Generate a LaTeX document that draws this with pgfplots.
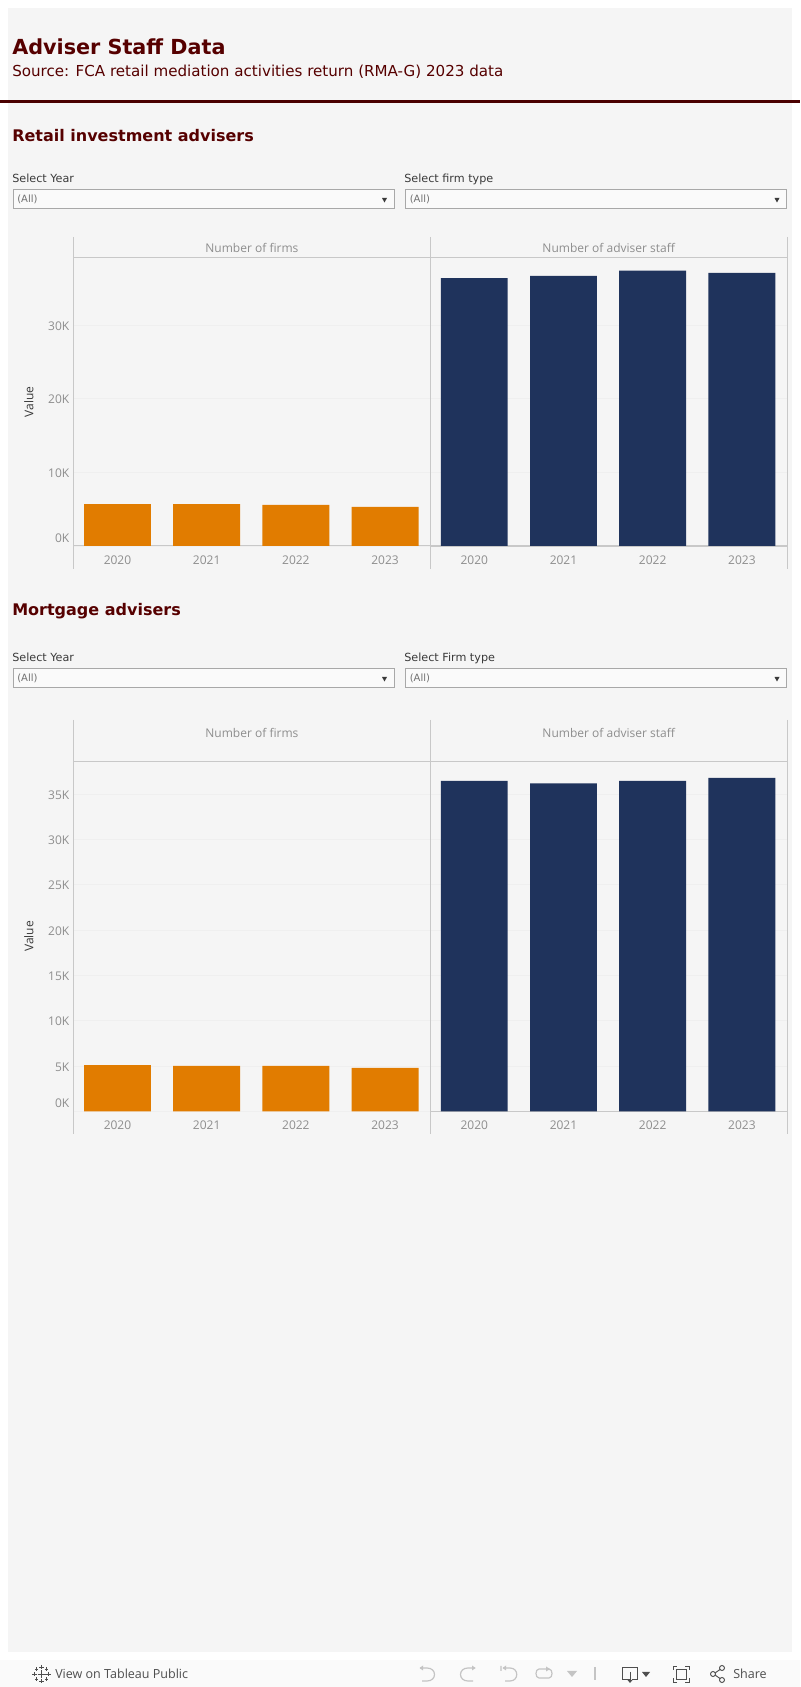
\documentclass[border=0pt]{standalone}
\usepackage{fontspec}
\setmainfont{Open Sans}
\newfontfamily\djv{DejaVu Sans}
\usepackage{pgfplots}
\pgfplotsset{compat=1.18}
\definecolor{panel}{HTML}{F5F5F5}
\definecolor{bar}{HTML}{FAFAFA}
\definecolor{maroon}{HTML}{560000}
\definecolor{rulec}{HTML}{4A0000}
\definecolor{orangeb}{HTML}{E17C00}
\definecolor{navyb}{HTML}{1F335C}
\definecolor{axisg}{HTML}{C8C8C8}
\definecolor{tickg}{HTML}{8E8E8E}
\definecolor{ddg}{HTML}{A8A8A8}
\definecolor{gridg}{HTML}{EFEFEF}
\definecolor{txt}{HTML}{3A3A3A}
\definecolor{tool}{HTML}{4E4E4E}
\definecolor{toold}{HTML}{C4C4C4}
\pgfplotstableread{
x retfirms retstaff mortfirms mortstaff
0 5700 36400 5100 36460
1 5700 36700 5000 36200
2 5600 37400 5000 36460
3 5300 37100 4800 36800
}\datatab
\pgfplotsset{
 pane/.style={
  scale only axis, width=267.6pt, xmin=-0.493, xmax=3.507, ymin=0,
  axis line style={axisg, line width=0.8pt},
  scaled y ticks=false,
  xtick={0,1,2,3}, xticklabels={2020,2021,2022,2023},
  major tick length=0pt, tick style={draw=none},
  ymajorgrids, grid style={gridg, line width=0.5pt},
  tick label style={font=\fontsize{9}{11}\selectfont, text=tickg, inner sep=0pt},
  x tick label style={anchor=north, yshift=-7.2pt},
  y tick label style={anchor=east, xshift=-3pt, yshift=-0.6pt},
  every axis title shift=0pt,
  title style={at={(0.5,1)}, anchor=center, yshift=7pt, font=\fontsize{9}{11}\selectfont, text=tickg, inner sep=0pt},
  every axis y label/.style={at={(axis description cs:0,0.5)}, rotate=90, anchor=center, yshift=33.4pt, font=\fontsize{9}{11}\selectfont, text=txt, inner sep=0pt},
  clip=false,
 },
 barsty/.style={ybar, bar width=0.75, draw=none, fill=#1},
}
\newcommand{\DD}[2]{%
 \draw[ddg, line width=0.75pt, fill=bar] (#1,#2) rectangle ++(381,19.5);
 \node[anchor=west, inner sep=0pt, text=tickg!80!black, font=\djv\fontsize{7.5}{10}\selectfont] at ({#1+4},{#2+10}) {(All)};
 \fill[txt] ({#1+369},{#2+8.5}) -- ++(5,0) -- ++(-2.5,4.5) -- cycle;
}
\begin{document}
\begin{tikzpicture}
\begin{scope}[shift={(0pt,1265.25pt)}, x=0.75pt, y=-0.75pt]
 \path[use as bounding box, fill=white] (0,0) rectangle (800,1687);
 \fill[panel] (8,8) rectangle (792,1652);
 \fill[bar] (0,1660) rectangle (800,1687);
 \fill[rulec] (0,100) rectangle (800,103);
 \node[anchor=west, inner sep=0pt, text=maroon, font=\djv\bfseries\fontsize{15.55}{20}\selectfont] at (12,47) {Adviser Staff Data};
 \node[anchor=west, inner sep=0pt, text=maroon, font=\djv\fontsize{11.33}{15}\selectfont] at (12,72) {Source: FCA retail mediation activities return (RMA-G) 2023 data};
 \node[anchor=west, inner sep=0pt, text=maroon, font=\djv\bfseries\fontsize{12}{16}\selectfont] at (12,136) {Retail investment advisers};
 \node[anchor=west, inner sep=0pt, text=maroon, font=\djv\bfseries\fontsize{12}{16}\selectfont] at (12,611) {Mortgage advisers};
 \node[anchor=base west, inner sep=0pt, text=txt, font=\djv\fontsize{8.4}{11}\selectfont] at (12,183) {Select Year};
 \node[anchor=base west, inner sep=0pt, text=txt, font=\djv\fontsize{8.4}{11}\selectfont] at (404,183) {Select firm type};
 \node[anchor=base west, inner sep=0pt, text=txt, font=\djv\fontsize{8.4}{11}\selectfont] at (12,662) {Select Year};
 \node[anchor=base west, inner sep=0pt, text=txt, font=\djv\fontsize{8.4}{11}\selectfont] at (404,662) {Select Firm type};
 \DD{13}{189.5}\DD{405.5}{189.5}\DD{13}{668.5}\DD{405.5}{668.5}
 % pane frames beyond the axes
 \foreach \xx in {73.5,430.7,787.2}{
  \draw[axisg, line width=0.8pt] (\xx,237) -- (\xx,569);
  \draw[axisg, line width=0.8pt] (\xx,720) -- (\xx,1134);
 }
\end{scope}

% Retail
\begin{axis}[pane, at={(55.125pt,855.75pt)}, anchor=south west, height=216.5pt, ymax=39225,
  ytick={10000,20000,30000}, yticklabels={10K,20K,30K},
  extra y ticks={0}, extra y tick labels={0K}, extra y tick style={y tick label style={yshift=6.3pt}},
  title={Number of firms}, ylabel={Value}]
 \addplot[barsty=orangeb] table[x=x,y=retfirms]{\datatab};
\end{axis}
\begin{axis}[pane, at={(322.725pt,855.75pt)}, anchor=south west, height=216.5pt, ymax=39225,
  ytick={10000,20000,30000}, yticklabels={}, title={Number of adviser staff}]
 \addplot[barsty=navyb] table[x=x,y=retstaff]{\datatab};
\end{axis}
% Mortgage
\begin{axis}[pane, at={(55.125pt,431.775pt)}, anchor=south west, height=262.5pt, ymax=38631,
  ytick={5000,10000,15000,20000,25000,30000,35000}, yticklabels={5K,10K,15K,20K,25K,30K,35K},
  extra y ticks={0}, extra y tick labels={0K}, extra y tick style={y tick label style={yshift=6.3pt}},
  title={Number of firms}, title style={yshift=14.5pt}, ylabel={Value}]
 \addplot[barsty=orangeb] table[x=x,y=mortfirms]{\datatab};
\end{axis}
\begin{axis}[pane, at={(322.725pt,431.775pt)}, anchor=south west, height=262.5pt, ymax=38631,
  ytick={5000,10000,15000,20000,25000,30000,35000}, yticklabels={},
  title={Number of adviser staff}, title style={yshift=14.5pt}]
 \addplot[barsty=navyb] table[x=x,y=mortstaff]{\datatab};
\end{axis}

\begin{scope}[shift={(0pt,1265.25pt)}, x=0.75pt, y=-0.75pt]
 % toolbar
 \node[anchor=west, inner sep=0pt, text=tool, font=\fontsize{9.4}{11}\selectfont] at (55,1674) {View on Tableau Public};
 \node[anchor=west, inner sep=0pt, text=tool, font=\fontsize{9.4}{11}\selectfont] at (733,1674) {Share};
 \begin{scope}[tool, line width=0.7pt]
  \foreach \cx/\cy/\r in {41.5/1674/4, 41.5/1667/2.2, 41.5/1681/2.2, 34.5/1674/2.2, 48.5/1674/2.2, 36.5/1669/1.7, 46.5/1669/1.7, 36.5/1679/1.7, 46.5/1679/1.7}
   {\draw ({\cx-\r},\cy) -- ({\cx+\r},\cy) (\cx,{\cy-\r}) -- (\cx,{\cy+\r});}
  % download, fullscreen, share
  \draw (630,1679) -- (622,1679) -- (622,1667) -- (637,1667) -- (637,1679) -- (632,1679);
  \draw (630,1672) -- (630,1682);
  \fill (627.5,1680) -- (632.5,1680) -- (630,1683) -- cycle;
  \fill (642,1672) -- (650,1672) -- (646,1677) -- cycle;
  \draw (673,1670) -- (673,1666) -- (677,1666) (685,1666) -- (689,1666) -- (689,1670) (689,1678) -- (689,1682) -- (685,1682) (677,1682) -- (673,1682) -- (673,1678);
  \draw (676,1669) rectangle (686,1679);
  \draw (722,1668) circle (2.5) (713,1674) circle (2.5) (722,1680) circle (2.5);
  \draw (715,1673) -- (720,1669.5) (715,1675) -- (720,1678.5);
 \end{scope}
 \begin{scope}[toold, line width=0.9pt]
  \draw (420,1668) -- (427,1668) .. controls (437,1668) and (437,1681) .. (427,1681) -- (422,1681);
  \fill (423,1665.5) -- (423,1670.5) -- (419.5,1668) -- cycle;
  \draw (475,1668) -- (468,1668) .. controls (458,1668) and (458,1681) .. (468,1681) -- (473,1681);
  \fill (472,1665.5) -- (472,1670.5) -- (475.5,1668) -- cycle;
  \draw (501,1666) -- (501,1671) (503,1668) -- (510,1668) .. controls (519,1668) and (519,1681) .. (510,1681) -- (505,1681);
  \fill (506,1665.5) -- (506,1670.5) -- (502.5,1668) -- cycle;
  \draw (547,1669) -- (539,1669) .. controls (535,1669) and (535,1678) .. (539,1678) -- (549,1678) .. controls (553,1678) and (553,1669) .. (549,1669);
  \fill (546,1666.5) -- (546,1671.5) -- (550,1669) -- cycle;
  \fill (567,1671) -- (577,1671) -- (572,1677) -- cycle;
  \draw (595,1667) -- (595,1680);
 \end{scope}
\end{scope}
\end{tikzpicture}
\end{document}
